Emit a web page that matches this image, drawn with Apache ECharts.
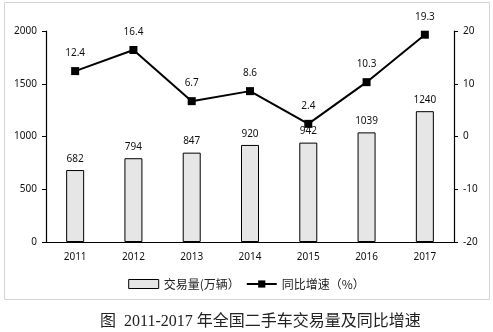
<!DOCTYPE html>
<html>
<head>
<meta charset="utf-8">
<script src="https://cdn.jsdelivr.net/npm/echarts@6/dist/echarts.min.js"></script>
<style>
  html, body { margin: 0; padding: 0; background: #fff; }
  #chart { width: 493px; height: 332px; }
</style>
</head>
<body>
<div id="chart"></div>
<script>
// Used-car trade volume (10k vehicles) and year-on-year growth (%), 2011-2017
const years = ['2011', '2012', '2013', '2014', '2015', '2016', '2017'];
const volume = [682, 794, 847, 920, 942, 1039, 1240];
const growth = [12.4, 16.4, 6.7, 8.6, 2.4, 10.3, 19.3];
const volumeName = '交易量(万辆）';
const growthName = '同比增速（%）';
const captionText = '图  2011-2017 年全国二手车交易量及同比增速';

const numFont = 'Noto Sans, Liberation Sans, sans-serif';
const chart = echarts.init(document.getElementById('chart'), null, { renderer: 'canvas' });

chart.setOption({
  animation: false,
  backgroundColor: '#fff',
  grid: { left: 46, right: 39, top: 31, bottom: 90, containLabel: false },
  legend: {
    top: 273,
    left: 'center',
    itemGap: 6,
    itemWidth: 30,
    itemHeight: 9,
    textStyle: { fontSize: 12, color: '#222', fontFamily: 'Noto Sans CJK SC, sans-serif' },
    data: [
      { name: volumeName, icon: 'rect', itemStyle: { color: '#e6e6e6', borderColor: '#000', borderWidth: 1 } },
      { name: growthName }
    ]
  },
  xAxis: {
    type: 'category',
    data: years,
    axisLine: { lineStyle: { color: '#000', width: 1.2 } },
    axisTick: { inside: true, length: 5, lineStyle: { color: '#000' } },
    axisLabel: { color: '#111', fontSize: 10, fontFamily: numFont, margin: 10 }
  },
  yAxis: [
    {
      type: 'value', min: 0, max: 2000, interval: 500,
      axisLine: { show: true, lineStyle: { color: '#000', width: 1.2 } },
      axisTick: { show: true, length: 4, lineStyle: { color: '#000' } },
      splitLine: { show: false },
      axisLabel: { color: '#111', fontSize: 10, fontFamily: numFont, margin: 9, formatter: v => String(v) }
    },
    {
      type: 'value', min: -20, max: 20, interval: 10,
      axisLine: { show: true, lineStyle: { color: '#000', width: 1.2 } },
      axisTick: { show: true, length: 4, lineStyle: { color: '#000' } },
      splitLine: { show: false },
      axisLabel: { color: '#111', fontSize: 10, fontFamily: numFont, margin: 9, formatter: v => String(v) }
    }
  ],
  series: [
    {
      name: volumeName,
      type: 'bar',
      data: volume,
      barWidth: 18,
      itemStyle: { color: '#e6e6e6', borderColor: '#000', borderWidth: 1 },
      label: { show: true, position: 'top', distance: 6, color: '#111', fontSize: 10, fontFamily: numFont }
    },
    {
      name: growthName,
      type: 'line',
      yAxisIndex: 1,
      data: growth,
      symbol: 'rect',
      symbolSize: 8,
      lineStyle: { color: '#000', width: 2 },
      itemStyle: { color: '#000' },
      label: { show: true, position: 'top', distance: 9, color: '#111', fontSize: 10, fontFamily: numFont }
    }
  ],
  graphic: [
    {
      type: 'rect', silent: true,
      shape: { x: 4.5, y: 2.5, width: 485, height: 297 },
      style: { fill: 'none', stroke: '#d4d4d4', lineWidth: 1 }
    },
    {
      type: 'text', left: 100, top: 314,
      style: { text: captionText, fill: '#222', fontSize: 16, fontFamily: 'Liberation Serif, Noto Sans CJK SC, serif' }
    }
  ]
});
</script>
</body>
</html>
